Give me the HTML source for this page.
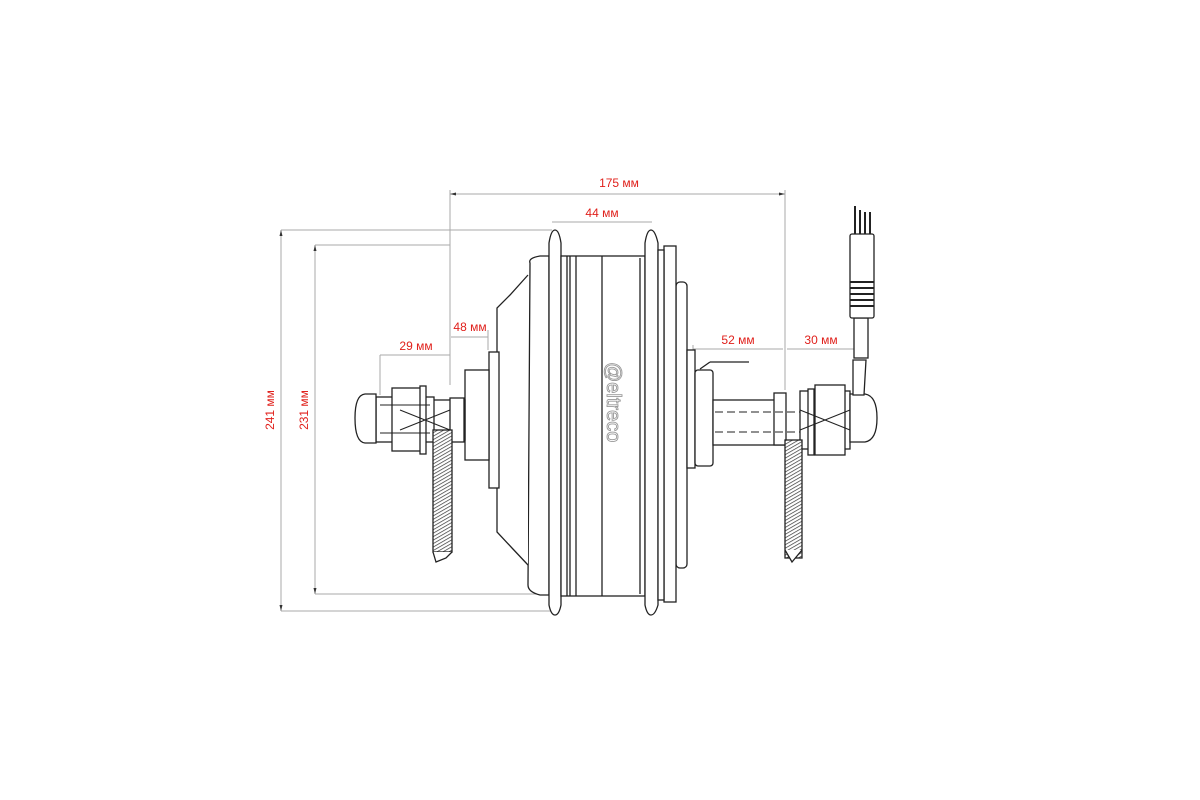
<!DOCTYPE html>
<html><head><meta charset="utf-8"><style>
html,body{margin:0;padding:0;background:#fff;}
svg{display:block;}
text{font-family:"Liberation Sans",sans-serif;font-size:12px;fill:#e0201b;}
</style></head><body>
<svg width="1200" height="800" viewBox="0 0 1200 800" xmlns="http://www.w3.org/2000/svg">
<defs>
<pattern id="h" width="3" height="3" patternUnits="userSpaceOnUse" patternTransform="rotate(60)">
<rect width="3" height="3" fill="#fff"/><line x1="0" y1="0" x2="0" y2="3" stroke="#333" stroke-width="1.4"/></pattern>
</defs>
<g stroke="#aaa" stroke-width="1" fill="none">
<line x1="450" y1="194" x2="785" y2="194"/>
<line x1="450" y1="190" x2="450" y2="385"/>
<line x1="785" y1="190" x2="785" y2="390"/>
<line x1="552" y1="222" x2="652" y2="222"/>
<line x1="281" y1="230" x2="552" y2="230"/>
<line x1="315" y1="245" x2="450" y2="245"/>
<line x1="315" y1="594" x2="552" y2="594"/>
<line x1="281" y1="611" x2="552" y2="611"/>
<line x1="281" y1="230" x2="281" y2="611"/>
<line x1="315" y1="245" x2="315" y2="594"/>
<line x1="451" y1="337" x2="488" y2="337"/>
<line x1="380" y1="355" x2="450" y2="355"/>
<line x1="380" y1="355" x2="380" y2="395"/>
<line x1="693" y1="349" x2="783" y2="349"/>
<line x1="787" y1="349" x2="856" y2="349"/>
<line x1="488" y1="330" x2="488" y2="350"/>
<line x1="693" y1="345" x2="693" y2="360"/>
</g>
<g fill="#333">
<path d="M450 194l6-1.5v3z"/><path d="M785 194l-6-1.5v3z"/>
<path d="M281 230l-1.5 6h3z"/><path d="M281 611l-1.5-6h3z"/>
<path d="M315 245l-1.5 6h3z"/><path d="M315 594l-1.5-6h3z"/>
</g>
<text x="619" y="187" text-anchor="middle">175 мм</text>
<text x="602" y="217" text-anchor="middle">44 мм</text>
<text x="470" y="331" text-anchor="middle">48 мм</text>
<text x="416" y="350" text-anchor="middle">29 мм</text>
<text x="738" y="344" text-anchor="middle">52 мм</text>
<text x="821" y="344" text-anchor="middle">30 мм</text>
<text transform="translate(274,410) rotate(-90)" text-anchor="middle">241 мм</text>
<text transform="translate(308,410) rotate(-90)" text-anchor="middle">231 мм</text>
<g stroke="#222" stroke-width="1.3" fill="#fff">
<rect x="676" y="282" width="11" height="286" rx="4"/>
<rect x="664" y="246" width="12" height="356"/>
<path d="M530 263 Q528 258 540 256 L549 256 L549 595 L540 595 Q528 592 528 585 Z"/>
<path d="M528 275 L510 295 L497 308 L497 532 L512 548 L528 565"/>
<rect x="489" y="352" width="10" height="136"/>
<rect x="465" y="370" width="24" height="90"/>
<path d="M549 243 Q551 230 555 230 Q559 230 561 243 L561 605 Q559 615 555 615 Q551 615 549 605 Z"/>
<rect x="561" y="256" width="84" height="340"/>
<path d="M645 243 Q647 230 651 230 Q655 230 658 243 L658 605 Q655 615 651 615 Q647 615 645 605 Z"/>
<rect x="658" y="250" width="6" height="350"/>
<path d="M602 256 L602 596 M640 258 L640 594 M570 256 L570 596 M576 256 L576 596 M567 256 L567 596"/>
<rect x="687" y="350" width="8" height="118"/>
<rect x="695" y="370" width="18" height="96" rx="3"/>
<line x1="700" y1="369" x2="710" y2="362"/><line x1="710" y1="362" x2="749" y2="362"/>
<rect x="430" y="400" width="35" height="40"/>
<rect x="450" y="398" width="14" height="44"/>
<rect x="376" y="397" width="58" height="45"/>
<rect x="392" y="388" width="30" height="63"/>
<rect x="420" y="386" width="6" height="68"/>
<path d="M376 394 L365 394 Q355 395 355 418 Q355 442 365 443 L376 443 Z"/>
<rect x="433" y="430" width="19" height="122" fill="url(#h)"/>
<path d="M433 552 L436 562 L446 558 L452 552"/>
<rect x="713" y="400" width="72" height="45"/>
<rect x="774" y="393" width="12" height="52"/>
<rect x="800" y="391" width="50" height="58"/>
<rect x="815" y="385" width="30" height="70"/>
<rect x="808" y="389" width="6" height="66"/>
<path d="M850 394 L865 394 Q877 396 877 418 Q877 440 865 442 L850 442 Z"/>
<rect x="785" y="440" width="17" height="118" fill="url(#h)"/>
<path d="M785 550 L792 562 L802 550"/>
<path d="M853 360 L853 395 L864 395 L866 360 Z"/>
<rect x="854" y="318" width="14" height="40"/>
<rect x="850" y="234" width="24" height="84" rx="2"/>
<g stroke-width="2"><line x1="850" y1="282" x2="874" y2="282"/><line x1="850" y1="288" x2="874" y2="288"/><line x1="850" y1="294" x2="874" y2="294"/><line x1="850" y1="300" x2="874" y2="300"/><line x1="850" y1="306" x2="874" y2="306"/></g>
<g stroke-width="2"><line x1="855" y1="206" x2="855" y2="234"/><line x1="860" y1="210" x2="860" y2="234"/><line x1="865" y1="212" x2="865" y2="234"/><line x1="870" y1="212" x2="870" y2="234"/></g>
</g>
<g stroke="#222" stroke-width="1" fill="none" stroke-dasharray="8 4">
<line x1="715" y1="412" x2="800" y2="412"/><line x1="715" y1="432" x2="800" y2="432"/>
</g>
<g stroke="#222" stroke-width="1" fill="none">
<line x1="380" y1="405" x2="430" y2="405"/><line x1="380" y1="433" x2="430" y2="433"/>
<line x1="400" y1="410" x2="450" y2="430"/><line x1="400" y1="430" x2="450" y2="410"/>
<line x1="800" y1="410" x2="850" y2="430"/><line x1="800" y1="430" x2="850" y2="410"/>
</g>
<text transform="translate(607,362) rotate(90)" style="font-size:20px;fill:#fff;stroke:#999;stroke-width:0.9">@eltreco</text>
</svg>
</body></html>
